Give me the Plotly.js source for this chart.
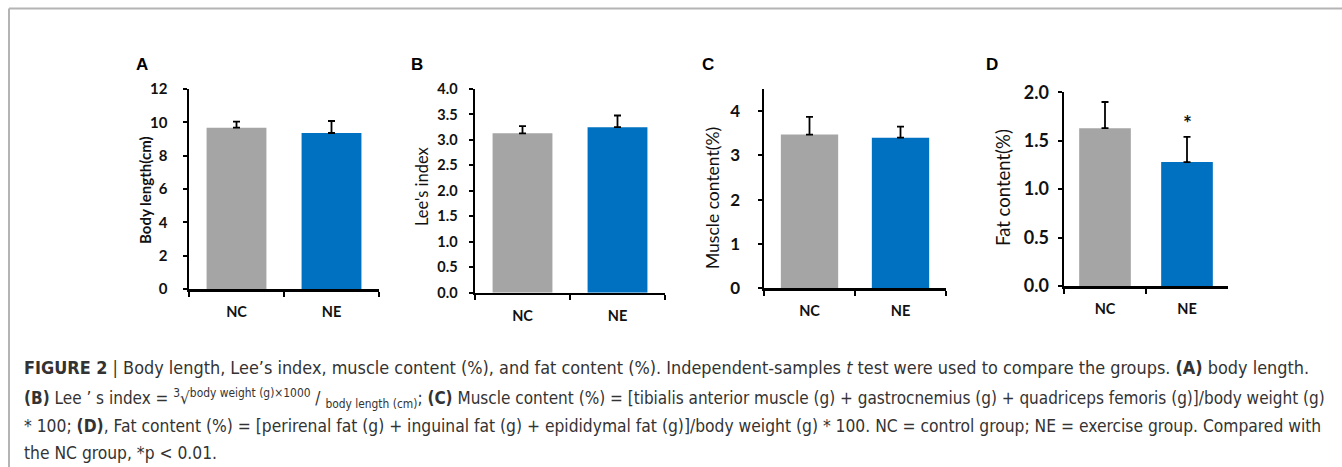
<!DOCTYPE html>
<html>
<head>
<meta charset="utf-8">
<script src="https://cdn.plot.ly/plotly-3.0.1.min.js"></script>
<style>html,body{margin:0;padding:0;background:#fff;}#chart{width:1342px;height:467px;}</style>
</head>
<body>
<div id="chart"></div>
<script>
// ---- data ----
const groups = ['NC', 'NE'];
const bodyLength = [9.68, 9.36];
const bodyLengthErr = [0.36, 0.72];
const leeIndex = [3.13, 3.25];
const leeIndexErr = [0.14, 0.23];
const muscleContent = [3.47, 3.40];
const muscleContentErr = [0.40, 0.25];
const fatContent = [1.63, 1.28];
const fatContentErr = [0.27, 0.26];
const panelLetters = ['A', 'B', 'C', 'D'];
const yTitles = ['Body length(cm)', "Lee's index", 'Muscle content(%)', 'Fat content(%)'];
const ticksA = [0, 2, 4, 6, 8, 10, 12];
const ticksB = [0, 0.5, 1.0, 1.5, 2.0, 2.5, 3.0, 3.5, 4.0];
const ticksC = [0, 1, 2, 3, 4];
const ticksD = [0, 0.5, 1.0, 1.5, 2.0];
const significance = ['', '*'];
const captionLines = [
  "<b>FIGURE 2</b> | Body length, Lee’s index, muscle content (%), and fat content (%). Independent-samples <i>t</i> test were used to compare the groups. <b>(A)</b> body length.",
  "<b>(B)</b> Lee ’ s index = <sup>3</sup>√<sup>body weight (g)×1000</sup> / <sub>body length (cm)</sub>; <b>(C)</b> Muscle content (%) = [tibialis anterior muscle (g) + gastrocnemius (g) + quadriceps femoris (g)]/body weight (g)",
  "* 100; <b>(D)</b>, Fat content (%) = [perirenal fat (g) + inguinal fat (g) + epididymal fat (g)]/body weight (g) * 100. NC = control group; NE = exercise group. Compared with",
  "the NC group, *p &lt; 0.01."
];

// ---- layout helpers ----
const W = 1342, H = 467;
const px = x => x / W;
const py = y => 1 - y / H;
const colors = ['#A5A5A5', '#0070C0'];
const chartFont = 'Lato, "Open Sans", sans-serif';
const capFont = '"DejaVu Sans Condensed", "Liberation Sans Narrow", "Liberation Sans", sans-serif';

const panels = [
  {vals: bodyLength, errs: bodyLengthErr, ticks: ticksA, range: [0, 12], x0: 189, x1: 379, yTop: 89, yBot: 289, tickSize: 15, standoff: 12, titleX: 145, titleY: 190, titleSize: 15, titleBold: true, letterX: 142, tickfmt: ''},
  {vals: leeIndex, errs: leeIndexErr, ticks: ticksB, range: [0, 4], x0: 475, x1: 665, yTop: 89, yBot: 292.7, tickSize: 14.5, standoff: 8, titleX: 422, titleY: 186, titleSize: 16.5, titleBold: false, letterX: 417, tickfmt: '.1f'},
  {vals: muscleContent, errs: muscleContentErr, ticks: ticksC, range: [0, 4.5], x0: 764, x1: 946, yTop: 89, yBot: 288.3, tickSize: 17, standoff: 14, titleX: 712, titleY: 198, titleSize: 17.5, titleBold: false, letterX: 708, tickfmt: ''},
  {vals: fatContent, errs: fatContentErr, ticks: ticksD, range: [0, 2], x0: 1064, x1: 1228, yTop: 92.3, yBot: 286, tickSize: 18, standoff: 5, titleX: 1003, titleY: 188, titleSize: 18.5, titleBold: false, letterX: 992, tickfmt: '.1f'}
];

const data = [];
const layout = {
  width: W, height: H,
  margin: {l: 0, r: 0, t: 0, b: 0},
  paper_bgcolor: '#fff', plot_bgcolor: 'rgba(0,0,0,0)',
  showlegend: false,
  font: {family: chartFont, color: '#111'},
  annotations: [],
  shapes: [
    {type: 'line', xref: 'paper', yref: 'paper', x0: px(9), x1: 1, y0: py(8.5), y1: py(8.5), line: {color: '#b4b4b4', width: 2}},
    {type: 'line', xref: 'paper', yref: 'paper', x0: px(9), x1: px(9), y0: py(8.5), y1: 0, line: {color: '#b4b4b4', width: 2}}
  ]
};

panels.forEach((p, i) => {
  const n = i + 1;
  const xa = 'x' + (n === 1 ? '' : n), ya = 'y' + (n === 1 ? '' : n);
  const xk = 'xaxis' + (n === 1 ? '' : n), yk = 'yaxis' + (n === 1 ? '' : n);
  data.push({
    type: 'bar', x: groups, y: p.vals, xaxis: xa, yaxis: ya, width: 0.63,
    marker: {color: colors, line: {width: 0}},
    error_y: {type: 'data', symmetric: false, array: p.errs, arrayminus: p.errs.map(() => 0), color: '#000', thickness: 1.8, width: 3.5},
    hoverinfo: 'x+y'
  });
  layout[xk] = {
    domain: [px(p.x0), px(p.x1)], anchor: ya,
    showline: true, linecolor: '#000', linewidth: 2.5,
    ticks: 'outside', tickson: 'boundaries', ticklen: 5, tickwidth: 2, tickcolor: '#000',
    showgrid: false, zeroline: false, fixedrange: true,
    tickfont: {family: chartFont, size: 14.5, color: '#111', weight: 'bold'},
    ticklabelstandoff: 8
  };
  layout[yk] = {
    domain: [py(p.yBot), py(p.yTop)], anchor: xa, range: p.range,
    tickmode: 'array', tickvals: p.ticks, tickformat: p.tickfmt,
    showline: true, linecolor: '#000', linewidth: 2.5,
    ticks: 'outside', ticklen: 4, tickwidth: 2, tickcolor: '#000',
    showgrid: false, zeroline: false, fixedrange: true,
    tickfont: {family: chartFont, size: p.tickSize, color: '#111', weight: 'bold'},
    ticklabelstandoff: p.standoff
  };
  layout.annotations.push({
    xref: 'paper', yref: 'paper', x: px(p.letterX), y: py(65), xanchor: 'center', yanchor: 'middle',
    text: '<b>' + panelLetters[i] + '</b>', showarrow: false, font: {family: 'Liberation Sans, Arial, sans-serif', size: 17, color: '#000'}
  });
  layout.annotations.push({
    xref: 'paper', yref: 'paper', x: px(p.titleX), y: py(p.titleY), xanchor: 'center', yanchor: 'middle', textangle: -90,
    text: p.titleBold ? '<b>' + yTitles[i] + '</b>' : yTitles[i], showarrow: false,
    font: {family: chartFont, size: p.titleSize, color: '#111'}
  });
});

// significance marker for panel D
groups.forEach((g, j) => {
  if (significance[j]) {
    layout.annotations.push({
      xref: 'x4', yref: 'y4', x: g, y: fatContent[j] + fatContentErr[j], yshift: 14, yanchor: 'middle',
      text: '<b>' + significance[j] + '</b>', showarrow: false, font: {family: chartFont, size: 21, color: '#111'}
    });
  }
});

// caption
const capY = [367, 398, 426, 453];
const capSize = [17.9, 17.0, 17.3, 17.3];
captionLines.forEach((t, k) => {
  layout.annotations.push({
    xref: 'paper', yref: 'paper', x: px(22), y: py(capY[k]), xanchor: 'left', yanchor: 'middle', align: 'left',
    text: t, showarrow: false, font: {family: capFont, size: capSize[k], color: '#333'}
  });
});

Plotly.newPlot('chart', data, layout, {displayModeBar: false, staticPlot: true});
</script>
</body>
</html>
